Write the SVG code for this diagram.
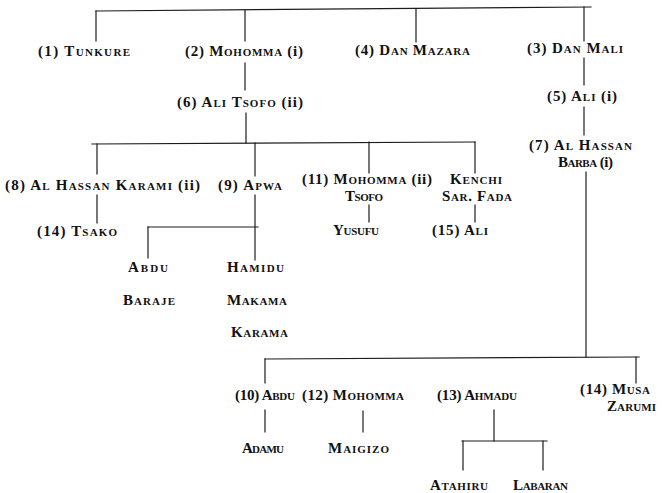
<svg xmlns="http://www.w3.org/2000/svg" width="662" height="493" viewBox="0 0 662 493">
  <style>
    .bg { fill: #ffffff; }
    .ln { stroke: #1c1c1c; stroke-width: 1.2; fill: none; stroke-linecap: square; }
    text { font-family: "Liberation Serif", "DejaVu Serif", serif; font-weight: bold; font-size: 15px; font-variant: small-caps; fill: #111111; }
    .rn { font-variant: normal; }
  </style>
  <rect class="bg" x="0" y="0" width="662" height="493"/>

  <!-- family lines -->
  <g id="connectors" class="ln">
    <path d="M96 11 L591 7"/>
    <path d="M96 11 V41"/>
    <path d="M245 10 V41"/>
    <path d="M416 9 V42"/>
    <path d="M584 7 V41"/>
    <path d="M245 63 V90"/>
    <path d="M246 113 V143"/>
    <path d="M92 144 L475 142"/>
    <path d="M97 144 V174"/>
    <path d="M255 143 V176"/>
    <path d="M369 142 V173"/>
    <path d="M475 142 V173"/>
    <path d="M584 58 V85"/>
    <path d="M584 107 V135"/>
    <path d="M586 172 V357"/>
    <path d="M265 359 L639 357"/>
    <path d="M265 359 V383"/>
    <path d="M636 357 V383"/>
    <path d="M97 195 V223"/>
    <path d="M255 195 V260"/>
    <path d="M148 227 H258"/>
    <path d="M148 227 V258"/>
    <path d="M369 205 V222"/>
    <path d="M475 205 V222"/>
    <path d="M265 410 V432"/>
    <path d="M363 411 V432"/>
    <path d="M494 410 V441"/>
    <path d="M462 441 H547"/>
    <path d="M463 441 V470"/>
    <path d="M543 441 V470"/>
  </g>

  <g id="n1"><text x="38" y="56" textLength="92" lengthAdjust="spacing">(1) Tunkure</text></g>
  <g id="n2"><text x="185" y="56" textLength="118" lengthAdjust="spacing">(2) Mohomma <tspan class="rn">(i)</tspan></text></g>
  <g id="n4"><text x="355" y="55" textLength="115" lengthAdjust="spacing">(4) Dan Mazara</text></g>
  <g id="n3"><text x="527" y="53" textLength="96" lengthAdjust="spacing">(3) Dan Mali</text></g>
  <g id="n6"><text x="177" y="107" textLength="126" lengthAdjust="spacing">(6) Ali Tsofo <tspan class="rn">(ii)</tspan></text></g>
  <g id="n5"><text x="547" y="101" textLength="70" lengthAdjust="spacing">(5) Ali <tspan class="rn">(i)</tspan></text></g>
  <g id="n7">
    <text x="529" y="150" textLength="103" lengthAdjust="spacing">(7) Al Hassan</text>
    <text x="558" y="167" textLength="55" lengthAdjust="spacing">Barba <tspan class="rn">(i)</tspan></text>
  </g>
  <g id="n8"><text x="5" y="190" textLength="195" lengthAdjust="spacing">(8) Al Hassan Karami <tspan class="rn">(ii)</tspan></text></g>
  <g id="n9"><text x="218" y="190" textLength="64" lengthAdjust="spacing">(9) Apwa</text></g>
  <g id="n11">
    <text x="302" y="184" textLength="130" lengthAdjust="spacing">(11) Mohomma <tspan class="rn">(ii)</tspan></text>
    <text x="345" y="201" textLength="38" lengthAdjust="spacing">Tsofo</text>
  </g>
  <g id="kenchi">
    <text x="450" y="184" textLength="52" lengthAdjust="spacing">Kenchi</text>
    <text x="442" y="201" textLength="70" lengthAdjust="spacing">Sar. Fada</text>
  </g>
  <g id="n14-tsako"><text x="37" y="236" textLength="80" lengthAdjust="spacing">(14) Tsako</text></g>
  <g id="abdu-baraje">
    <text x="128" y="272" textLength="40" lengthAdjust="spacing">Abdu</text>
    <text x="123" y="305" textLength="52" lengthAdjust="spacing">Baraje</text>
  </g>
  <g id="hamidu">
    <text x="227" y="272" textLength="57" lengthAdjust="spacing">Hamidu</text>
    <text x="227" y="305" textLength="60" lengthAdjust="spacing">Makama</text>
    <text x="231" y="337" textLength="57" lengthAdjust="spacing">Karama</text>
  </g>
  <g id="yusufu"><text x="333" y="235" textLength="46" lengthAdjust="spacing">Yusufu</text></g>
  <g id="n15"><text x="432" y="235" textLength="56" lengthAdjust="spacing">(15) Ali</text></g>
  <g id="n10"><text x="235" y="400" textLength="60" lengthAdjust="spacing">(10) Abdu</text></g>
  <g id="n12"><text x="302" y="400" textLength="102" lengthAdjust="spacing">(12) Mohomma</text></g>
  <g id="n13"><text x="437" y="400" textLength="80" lengthAdjust="spacing">(13) Ahmadu</text></g>
  <g id="n14-musa">
    <text x="580" y="394" textLength="70" lengthAdjust="spacing">(14) Musa</text>
    <text x="607" y="411" textLength="49" lengthAdjust="spacing">Zarumi</text>
  </g>
  <g id="adamu"><text x="242" y="453" textLength="42" lengthAdjust="spacing">Adamu</text></g>
  <g id="maigizo"><text x="328" y="453" textLength="61" lengthAdjust="spacing">Maigizo</text></g>
  <g id="atahiru"><text x="430" y="490" textLength="58" lengthAdjust="spacing">Atahiru</text></g>
  <g id="labaran"><text x="513" y="490" textLength="55" lengthAdjust="spacing">Labaran</text></g>
</svg>
